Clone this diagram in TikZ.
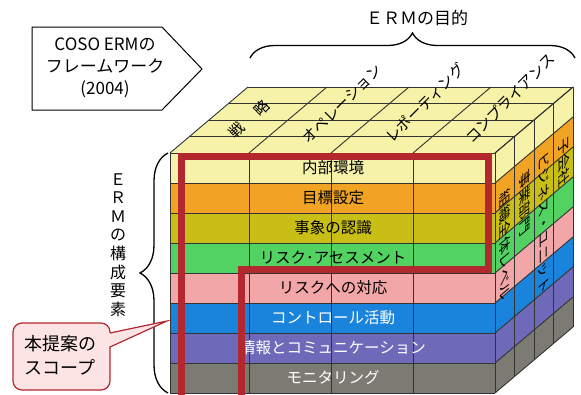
\documentclass[tikz,border=0pt]{standalone}
\usepackage{fontspec}
\setmainfont{Noto Sans CJK JP}
\usetikzlibrary{decorations.pathreplacing}
\definecolor{cyel}{HTML}{F6F3A8}
\definecolor{corg}{HTML}{F1A424}
\definecolor{coli}{HTML}{C9BE16}
\definecolor{cgrn}{HTML}{52D260}
\definecolor{cpnk}{HTML}{F2A6A8}
\definecolor{cblu}{HTML}{1A84DC}
\definecolor{cpur}{HTML}{6E6AB9}
\definecolor{cgry}{HTML}{7C7B73}
\definecolor{cred}{HTML}{B3282F}
\definecolor{cline}{HTML}{333333}
\definecolor{cpink}{HTML}{FDE4E4}
\begin{document}
\begin{tikzpicture}[x=1pt,y=-1pt,
  grid/.style={draw=cline, line width=0.9pt},
  rowlbl/.style={font=\fontsize{15.5}{18}\selectfont, inner sep=0pt},
  toplbl/.style={font=\fontsize{15}{18}\selectfont, inner sep=0pt, rotate=45},
  sidelbl/.style={font=\fontsize{15.5}{18}\selectfont, inner sep=0pt, transform shape},
  scopeline/.style={draw=cred, line width=7pt, line join=miter},
  bracestyle/.style={draw=black, line width=1.3pt, decorate},
  callout/.style={draw=cred, fill=cpink, line width=1.2pt}
]
\useasboundingbox (0,0) rectangle (581,394);

% ---- fills of the cube
\fill[cyel] (170,153) -- (495,153) -- (573,87) -- (248,87) -- cycle;
\foreach \c [count=\i from 0] in {cyel,corg,coli,cgrn,cpnk,cblu,cpur,cgry} {
  \fill[\c] (170,153+30*\i) rectangle (495,183+30*\i);
  \fill[\c] (495,153+30*\i) -- (573,87+30*\i) -- (573,117+30*\i) -- (495,183+30*\i) -- cycle;
}
% ---- grid lines
\foreach \i in {0,...,8} {
  \draw[grid] (170,153+30*\i) -- (495,153+30*\i);
  \draw[grid] (495,153+30*\i) -- (573,87+30*\i);
}
\foreach \x in {170,249,331,413,495} {
  \draw[grid] (\x,153) -- (\x,393);
  \draw[grid] (\x,153) -- (\x+78,87);
}
\foreach \k in {0,...,4} {
  \draw[grid] (170+19.5*\k,153-16.5*\k) -- (495+19.5*\k,153-16.5*\k);
  \draw[grid] (495+19.5*\k,153-16.5*\k) -- (495+19.5*\k,393-16.5*\k);
}

% ---- front labels
\foreach \t/\tc [count=\i from 0] in {内部環境/black,目標設定/black,事象の認識/black,リスク･アセスメント/black,リスクへの対応/black,コントロール活動/white,情報とコミュニケーション/white,モニタリング/white} {
  \node[rowlbl, text=\tc] (row\i) at (333,168+30*\i) {\t};
}

% ---- top labels
\node[toplbl] (t1a) at (237,130) {戦};
\node[toplbl] (t1b) at (262,108) {略};
\node[toplbl] (t2) at (342,104) {オペレーション};
\node[toplbl] (t3) at (425,103) {レポーティング};
\node[toplbl] (t4) at (510,98) {コンプライアンス};

% ---- side labels
\node[sidelbl, cm={0,-1,0.764,0.646,(505,245)}] (s1) at (0,0) {組織全体レベル};
\node[sidelbl, cm={0,-1,0.764,0.646,(524.5,203)}] (s2) at (0,0) {事業部門};
\node[sidelbl, cm={0,-1,0.764,0.646,(544,223)}] (s3) at (0,0) {ビジネス・ユニット};
\node[sidelbl, cm={0,-1,0.764,0.646,(563.5,162)}] (s4) at (0,0) {子会社};

% ---- scope line
\draw[scopeline] (181,398) -- (181,156) -- (488.5,156) -- (488.5,269) -- (241.5,269) -- (241.5,398);

% ---- braces
\draw[bracestyle, decoration={brace, amplitude=25pt}] (250,58) -- (575,58);
\node[font=\fontsize{17}{20}\selectfont, inner sep=0pt] (purpose) at (417,18) {ＥＲＭの目的};
\draw[bracestyle, decoration={brace, amplitude=28pt}] (168,393) -- (168,153);
\node[font=\fontsize{16}{18.6}\selectfont, align=center, inner sep=0pt] (comp) at (118,245) {Ｅ\\Ｒ\\Ｍ\\の\\構\\成\\要\\素};

% ---- COSO box
\draw[line width=1pt, fill=white] (32,27) -- (162,27) -- (202,69) -- (162,110) -- (32,110) -- cycle;
\node[font=\fontsize{17}{22}\selectfont, align=center, inner sep=0pt] (coso) at (105,68) {COSO ERMの\\フレームワーク\\(2004)};

% ---- callout
\draw[callout, rounded corners=9pt] (13,323) rectangle (110,390);
\fill[cpink] (108,333) -- (167,321) -- (108,347) -- cycle;
\draw[draw=cred, line width=1.2pt, line join=miter] (110,333) -- (167,321) -- (110,347);
\node[font=\fontsize{18}{24}\selectfont, align=left, anchor=west, inner sep=0pt] (scopelbl) at (24,355) {本提案の\\スコープ};
\end{tikzpicture}
\end{document}
